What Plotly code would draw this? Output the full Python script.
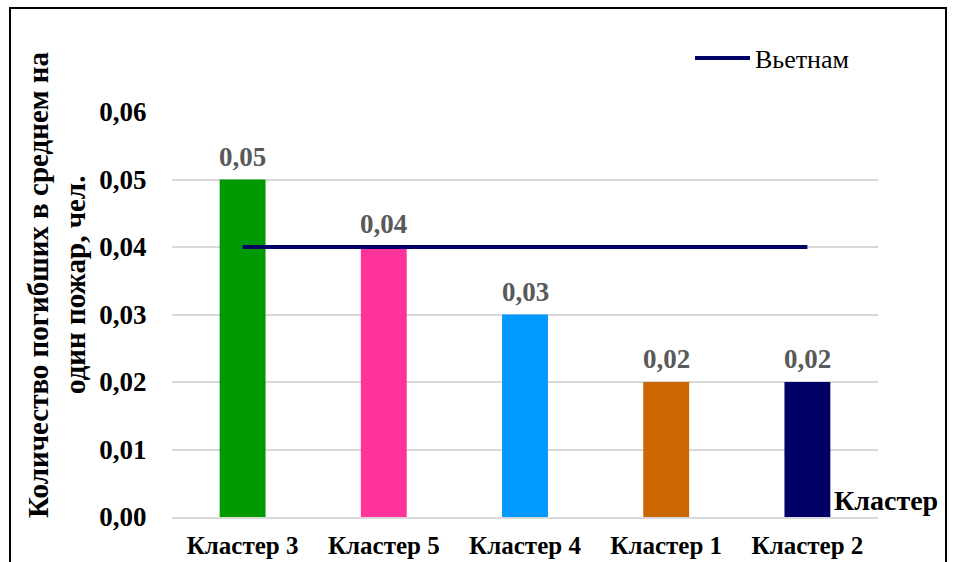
import plotly.graph_objects as go

categories = ["Кластер 3", "Кластер 5", "Кластер 4", "Кластер 1", "Кластер 2"]
values = [0.05, 0.04, 0.03, 0.02, 0.02]
bar_colors = ["#009900", "#FF3399", "#0099FF", "#CC6600", "#000066"]
vietnam = [0.04, 0.04, 0.04, 0.04, 0.04]
y_ticks = [0.0, 0.01, 0.02, 0.03, 0.04, 0.05, 0.06]

FONT = "Liberation Serif, Times New Roman, serif"

fig = go.Figure()
fig.add_trace(go.Bar(
    x=categories, y=values, marker=dict(color=bar_colors, line=dict(width=0)),
    width=0.325, showlegend=False, hoverinfo="skip",
))
fig.add_trace(go.Scatter(
    x=categories, y=vietnam, mode="lines", name="Вьетнам",
    line=dict(color="#000066", width=4),
))

for c, v in zip(categories, values):
    fig.add_annotation(
        x=c, y=v, xref="x", yref="y", text=f"<b>{v:.2f}</b>".replace(".", ","),
        showarrow=False, yanchor="bottom", yshift=6,
        font=dict(family=FONT, size=27, color="#595959"),
    )

W, H = 953, 562
L, R, T, B = 172, 878, 112, 517
pw, ph = R - L, B - T

def px(x):
    return (x - L) / pw

def py(y):
    return (B - y) / ph

fig.add_annotation(
    x=px(38), y=py(285), xref="paper", yref="paper",
    text="<b>Количество погибших в среднем на</b>", textangle=-90, showarrow=False,
    xanchor="center", yanchor="middle",
    font=dict(family=FONT, size=29, color="black"),
)
fig.add_annotation(
    x=px(75), y=py(285), xref="paper", yref="paper",
    text="<b>один пожар, чел.</b>", textangle=-90, showarrow=False,
    xanchor="center", yanchor="middle",
    font=dict(family=FONT, size=29, color="black"),
)
fig.add_annotation(
    x=px(886), y=py(500), xref="paper", yref="paper",
    text="<b>Кластер</b>", showarrow=False, xanchor="center", yanchor="middle",
    font=dict(family=FONT, size=28, color="black"),
)

fig.add_shape(
    type="rect", xref="paper", yref="paper",
    x0=px(10), x1=px(946), y0=py(600), y1=py(8),
    line=dict(color="black", width=2), fillcolor="rgba(0,0,0,0)", layer="above",
)

fig.update_layout(
    width=W, height=H,
    margin=dict(l=L, r=W - R, t=T, b=H - B, pad=0, autoexpand=False),
    paper_bgcolor="white", plot_bgcolor="white",
    separators=", ",
    font=dict(family=FONT, color="black"),
    bargap=0.675,
    legend=dict(
        x=px(690), y=py(58), xref="paper", yref="paper",
        xanchor="left", yanchor="middle",
        font=dict(family=FONT, size=26, color="black"),
        bgcolor="rgba(0,0,0,0)", itemwidth=55,
    ),
    xaxis=dict(
        showgrid=False, showline=True, linecolor="#D9D9D9", linewidth=2,
        ticks="outside", ticklen=5, tickcolor="rgba(0,0,0,0)",
        tickfont=dict(family=FONT, size=25, color="black", weight="bold"),
        range=[-0.5, 4.5], automargin=False,
    ),
    yaxis=dict(
        range=[0, 0.06], tickvals=y_ticks, tickformat=".2f",
        showgrid=True, gridcolor="#D9D9D9", gridwidth=1.5,
        zeroline=False, showline=False,
        ticks="outside", ticklen=19, tickcolor="rgba(0,0,0,0)",
        tickfont=dict(family=FONT, size=27, color="black", weight="bold"),
        automargin=False,
    ),
)

fig.write_html("out.html")
